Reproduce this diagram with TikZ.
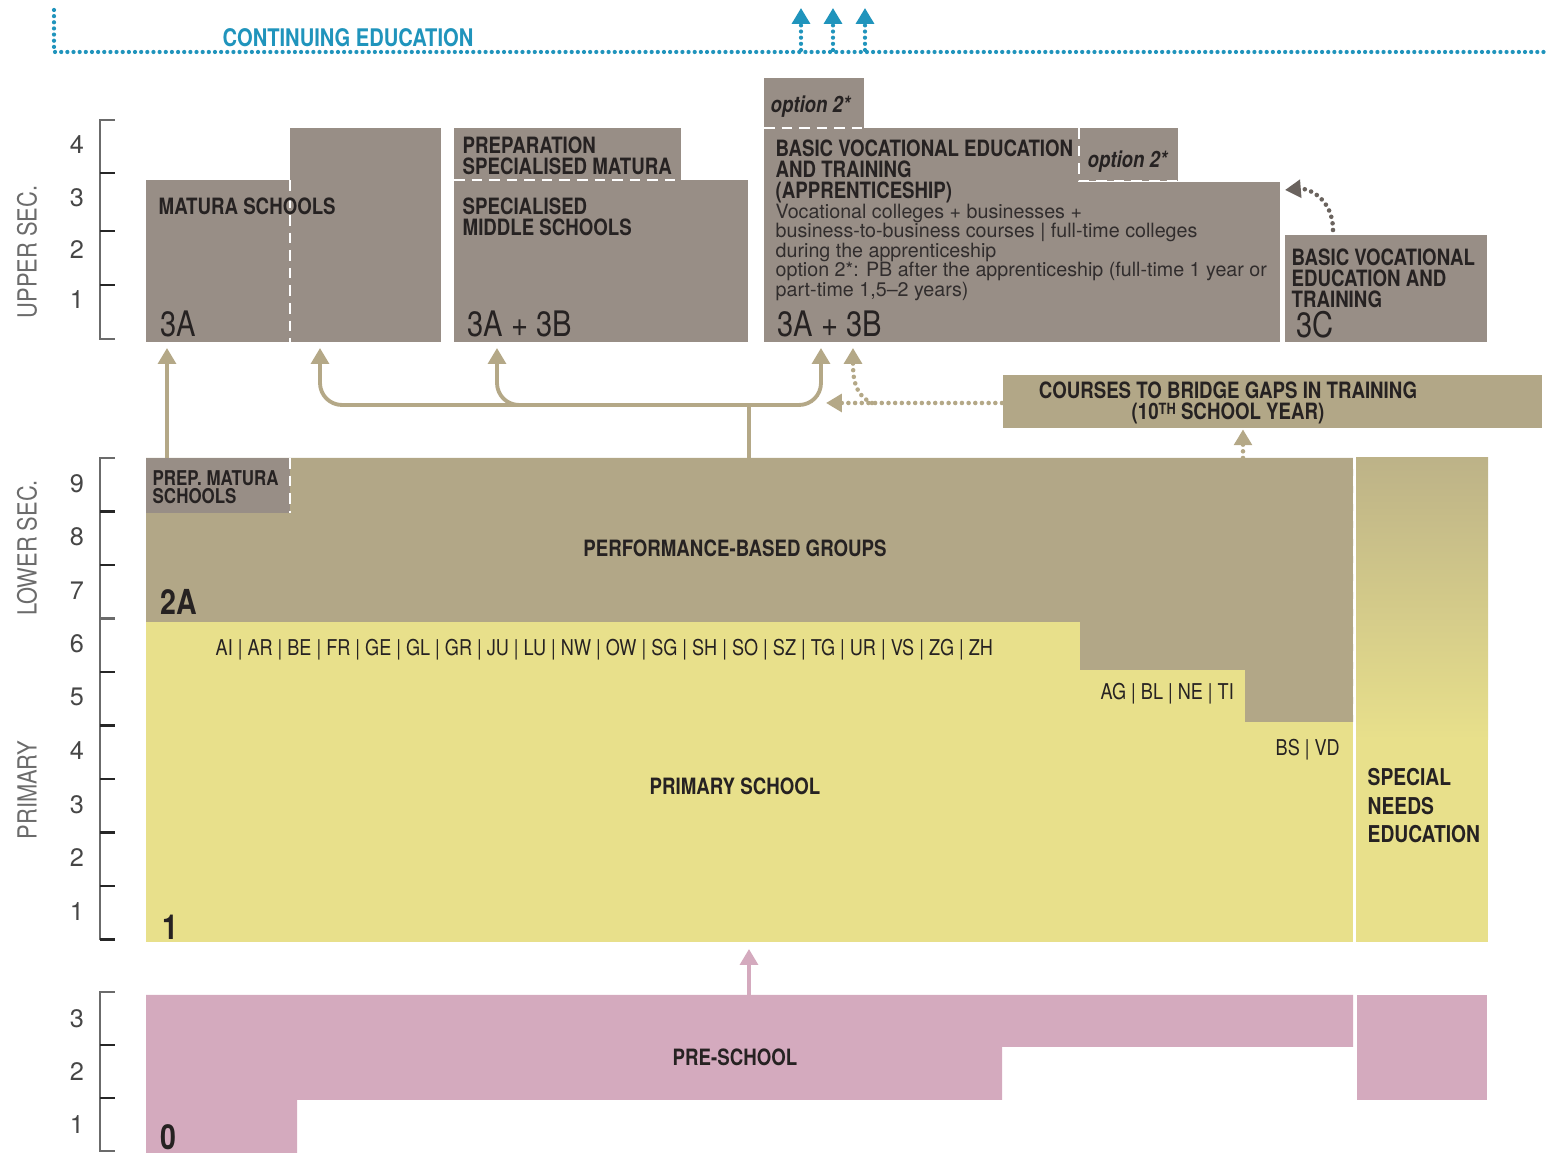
\documentclass[tikz,border=0pt]{standalone}
\usepackage{fontspec}
\usepackage{tikz}
\usetikzlibrary{calc,arrows.meta}
\newfontfamily\cond{TeX Gyre Heros}[FakeStretch=0.83]
\newfontfamily\plain{TeX Gyre Heros}
\definecolor{upgrey}{RGB}{152,142,134}
\definecolor{tanc}{RGB}{178,167,135}
\definecolor{yellowc}{RGB}{232,224,139}
\definecolor{pinkc}{RGB}{212,170,190}
\definecolor{bluec}{RGB}{32,148,188}
\definecolor{arrowtan}{RGB}{180,168,135}
\definecolor{txt}{RGB}{38,34,34}
\definecolor{axisc}{RGB}{70,70,70}
\newcommand{\supth}{\raisebox{1.4pt}{\fontsize{4.4}{4.4}\selectfont TH}}

\begin{document}
\begin{tikzpicture}[x=1cm,y=-1cm]
       \tikzstyle{ubox} = [rectangle, fill=upgrey, inner sep=0, outer sep=0, anchor=north west];
       \tikzstyle{lbl} = [font=\cond\bfseries\fontsize{6.4}{6.0}\selectfont, text=txt, align=left, inner sep=0, anchor=north west];
       \tikzstyle{opt} = [lbl, font=\cond\bfseries\itshape\fontsize{6.4}{6.4}\selectfont];
       \tikzstyle{isced} = [font=\cond\fontsize{10}{10}\selectfont, text=txt, inner sep=0, anchor=north west];
       \tikzstyle{iscedb} = [isced, font=\cond\bfseries\fontsize{9.8}{9.8}\selectfont];
       \tikzstyle{small} = [font=\plain\fontsize{5.6}{5.55}\selectfont, text=txt!95, align=left, inner sep=0, anchor=north west];
       \tikzstyle{canton} = [font=\cond\fontsize{6.2}{6.2}\selectfont, text=txt, inner sep=0, anchor=north west];
       \tikzstyle{grade} = [font=\plain\fontsize{7.2}{7.2}\selectfont, text=axisc, inner sep=0];
       \tikzstyle{level} = [font=\cond\fontsize{7.5}{7.5}\selectfont, text=axisc!80, rotate=90, inner sep=0];
       \tikzstyle{axis} = [draw=axisc!80, line width=0.6pt];
       \tikzstyle{tick} = [draw=black!85, line width=0.8pt];
       \tikzstyle{sep} = [white, line width=0.7pt, dash pattern=on 3pt off 2pt];
       \tikzstyle{flow} = [draw=arrowtan, line width=1.1pt, -{Triangle[width=5pt,length=4.5pt]}];
       \tikzstyle{dotflow} = [draw=arrowtan, line width=1.3pt, line cap=round, dash pattern=on 0pt off 1.9pt, -{Triangle[width=5pt,length=4.5pt]}];
       \tikzstyle{greydot} = [dotflow, draw=upgrey!70!black];
       \tikzstyle{bluedot} = [draw=bluec, line width=1.2pt, line cap=round, dash pattern=on 0pt off 1.75pt];
       \useasboundingbox (0,0) rectangle (15.49,11.53);

       % continuing education
       \coordinate (cetop) at (0.54,0.10);
       \coordinate (celeft) at (0.54,0.52);
       \coordinate (ceright) at (15.49,0.52);
       \draw[bluedot] (cetop) -- (celeft) -- (ceright);
       \node[font=\cond\bfseries\fontsize{6.9}{6.9}\selectfont, text=bluec, inner sep=0] (cont) at (3.48,0.38) {CONTINUING EDUCATION};
       \foreach \x in {8.01,8.33,8.65}
         \draw[bluedot, -{Triangle[width=5pt,length=4.5pt]}] (\x,0.50) -- (\x,0.08);

       % grade scales
       \draw[axis] (1.15,1.20) -- (1.00,1.20) -- (1.00,3.39) -- (1.15,3.39);
       \foreach \y in {1.73,2.31,2.85}
         \draw[tick] (1.00,\y) -- (1.15,\y);
       \foreach \g/\y in {4/1.45,3/1.98,2/2.50,1/3.00}
         \node[grade] (ug\g) at (0.77,\y) {\g};
       \node[level] (upsec) at (0.27,2.52) {UPPER SEC.};

       \draw[axis] (1.15,4.58) -- (1.00,4.58) -- (1.00,9.40);
       \foreach \k in {1,2,4,5,6,7,8,9}
         \draw[tick] (1.00,{4.58+0.535*\k}) -- (1.15,{4.58+0.535*\k});
       \draw[axis] (1.00,6.185) -- (1.15,6.185);
       \foreach \g in {1,...,9}
         \node[grade] (lg\g) at (0.77,{9.38-0.535*(\g-0.5)}) {\g};
       \node[level] (lowsec) at (0.27,5.48) {LOWER SEC.};
       \node[level] (prim) at (0.27,7.90) {PRIMARY};

       \draw[axis] (1.15,9.92) -- (1.00,9.92) -- (1.00,11.51) -- (1.15,11.51);
       \foreach \y in {10.45,10.98}
         \draw[tick] (1.00,\y) -- (1.15,\y);
       \foreach \g in {1,...,3}
         \node[grade] (pg\g) at (0.77,{11.51-0.53*(\g-0.5)}) {\g};

       % upper secondary
       \node[ubox, minimum width=1.44cm, minimum height=1.62cm] (matl) at (1.46,1.80) {};
       \node[ubox, minimum width=1.51cm, minimum height=2.14cm] (matr) at (2.90,1.28) {};
       \node[ubox, minimum width=2.27cm, minimum height=0.52cm] (prepsm) at (4.54,1.28) {};
       \node[ubox, minimum width=2.94cm, minimum height=1.62cm] (smid) at (4.54,1.80) {};
       \node[ubox, minimum width=1.00cm, minimum height=0.50cm] (opt1) at (7.64,0.78) {};
       \node[ubox, minimum width=3.15cm, minimum height=0.56cm] (bvet) at (7.64,1.28) {};
       \node[ubox, minimum width=0.99cm, minimum height=0.53cm] (opt2) at (10.79,1.28) {};
       \node[ubox, minimum width=5.16cm, minimum height=1.60cm] (bvetb) at (7.64,1.82) {};
       \node[ubox, minimum width=2.02cm, minimum height=1.07cm] (voc3c) at (12.85,2.35) {};
       \draw[sep] (matl.north east) -- (matl.south east);
       \draw[sep] (prepsm.south west) -- (prepsm.south east);
       \draw[sep] (opt1.south west) -- (opt1.south east);
       \draw[sep] (opt2.north west) -- (opt2.south west) -- (opt2.south east);

       \node[lbl] (matt) at (1.58,1.97) {MATURA SCHOOLS};
       \node[isced] (mati) at (1.60,3.10) {3A};
       \node[lbl] (prept) at (4.62,1.36) {PREPARATION\\SPECIALISED MATURA};
       \node[lbl] (smidt) at (4.62,1.97) {SPECIALISED\\MIDDLE SCHOOLS};
       \node[isced] (smidi) at (4.67,3.10) {3A + 3B};
       \node[opt] (opt1t) at (7.70,0.95) {option 2*};
       \node[opt] (opt2t) at (10.87,1.50) {option 2*};
       \node[lbl] (bvett) at (7.75,1.39) {BASIC VOCATIONAL EDUCATION\\AND TRAINING\\(APPRENTICESHIP)};
       \node[small] (bvets) at (7.75,2.03) {Vocational colleges + businesses +\\business-to-business courses | full-time colleges\\during the apprenticeship\\option 2*: PB after the apprenticeship (full-time 1 year or\\part-time 1,5\textendash 2 years)};
       \node[isced] (bveti) at (7.77,3.10) {3A + 3B};
       \node[lbl] (voct) at (12.91,2.48) {BASIC VOCATIONAL\\EDUCATION AND\\TRAINING};
       \node[isced] (voci) at (12.96,3.11) {3C};
       \draw[greydot] ($(voc3c.north west)+(0.48,-0.05)$) .. controls (13.33,2.00) and (13.10,1.88) .. ($(bvetb.north east)+(0.05,0.08)$);

       % bridging courses
       \node[rectangle, fill=tanc, inner sep=0, anchor=north west, minimum width=5.39cm, minimum height=0.53cm] (courses) at (10.02,3.74) {};
       \node[lbl, align=center, anchor=center] (coursest) at (12.28,4.03) {COURSES TO BRIDGE GAPS IN TRAINING\\(10\supth\ SCHOOL YEAR)};

       % lower secondary and primary
       \fill[yellowc] (1.46,6.20) rectangle (13.53,9.42);
       \fill[tanc] (1.46,4.58) -- (13.53,4.58) -- (13.53,7.22) -- (12.45,7.22) -- (12.45,6.70)
                   -- (10.80,6.70) -- (10.80,6.22) -- (1.46,6.22) -- cycle;
       \shade[top color=tanc!80!yellowc, bottom color=yellowc] (13.56,4.58) rectangle (14.88,7.40);
       \fill[yellowc] (13.56,7.39) rectangle (14.88,9.42);
       \node[ubox, minimum width=1.44cm, minimum height=0.55cm] (prepmat) at (1.46,4.58) {};
       \draw[sep] (prepmat.north east) -- (prepmat.south east);
       \draw[sep] (13.545,4.58) -- (13.545,9.42);
       \coordinate (trunk) at (7.49,4.58);
       \coordinate (junc) at (7.49,4.05);
       \coordinate (bridge) at (12.43,4.58);
       \coordinate (primbot) at (7.49,9.42);

       \node[lbl, font=\cond\bfseries\fontsize{5.8}{5.2}\selectfont] (prepmt) at (1.52,4.70) {PREP. MATURA\\SCHOOLS};
       \node[lbl, anchor=center] (perft) at (7.35,5.48) {PERFORMANCE-BASED GROUPS};
       \node[iscedb] (lowi) at (1.60,5.89) {2A};
       \node[canton] (cant1) at (2.15,6.39) {AI | AR | BE | FR | GE | GL | GR | JU | LU | NW | OW | SG | SH | SO | SZ | TG | UR | VS | ZG | ZH};
       \node[canton] (cant2) at (11.00,6.83) {AG | BL | NE | TI};
       \node[canton] (cant3) at (12.75,7.39) {BS | VD};
       \node[lbl, anchor=center] (primt) at (7.35,7.86) {PRIMARY SCHOOL};
       \node[iscedb] (primi) at (1.62,9.14) {1};
       \node[lbl, font=\cond\bfseries\fontsize{6.6}{8.1}\selectfont] (spect) at (13.67,7.68) {SPECIAL\\NEEDS\\EDUCATION};

       % pre-school
       \fill[pinkc] (1.46,9.95) -- (13.53,9.95) -- (13.53,10.47) -- (10.02,10.47) -- (10.02,11.00)
                    -- (2.97,11.00) -- (2.97,11.53) -- (1.46,11.53) -- cycle;
       \fill[pinkc] (13.57,9.95) rectangle (14.87,11.00);
       \draw[sep] (13.55,9.95) -- (13.55,10.47);
       \coordinate (prestart) at (7.49,9.95);
       \node[lbl, anchor=center] (pret) at (7.35,10.57) {PRE-SCHOOL};
       \node[iscedb] (prei) at (1.60,11.24) {0};

       % transitions
       \draw[flow] ($(prepmat.north west)+(0.21,0)$) -- ($(matl.south west)+(0.21,0.06)$);
       \draw[draw=arrowtan, line width=1.1pt] (trunk) -- (junc);
       \draw[flow, rounded corners=0.22cm] (junc) -| ($(matr.south west)+(0.30,0.06)$);
       \draw[flow, rounded corners=0.22cm] (junc) -| ($(smid.south west)+(0.43,0.06)$);
       \draw[flow, rounded corners=0.22cm] (junc) -| ($(bvetb.south west)+(0.57,0.06)$);
       \coordinate (dotend) at (8.26,4.03);
       \coordinate (dotbranch) at (8.72,4.03);
       \draw[dotflow] (courses.west |- dotend) -- (dotend);
       \draw[dotflow] (dotbranch) .. controls (8.55,3.95) and (8.53,3.80) .. ($(bvetb.south west)+(0.89,0.06)$);
       \draw[dotflow] (bridge) -- ($(bridge |- courses.south)+(0,0.01)$);
       \draw[draw=pinkc, line width=1.1pt, -{Triangle[width=5pt,length=4.5pt]}] (prestart) -- ($(primbot)+(0,0.07)$);
     \end{tikzpicture}
\end{document}
